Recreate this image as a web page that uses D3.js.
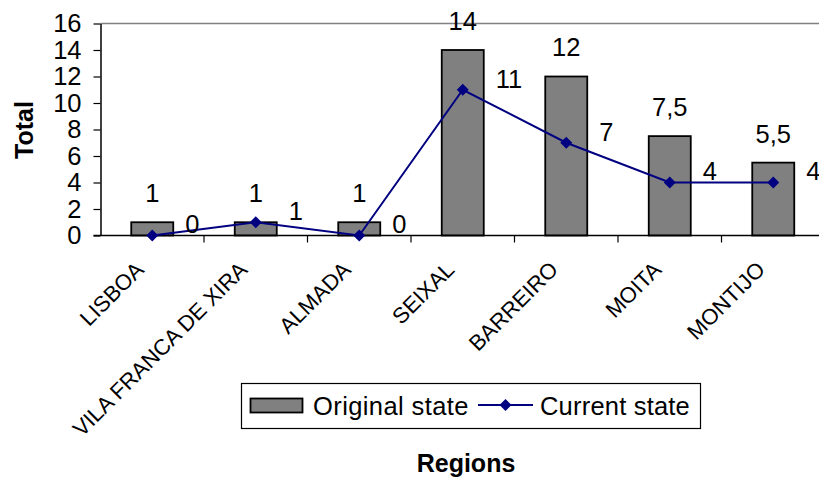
<!DOCTYPE html>
<html>
<head>
<meta charset="utf-8">
<script src="https://cdn.jsdelivr.net/npm/d3@7"></script>
<style>
  html, body { margin: 0; padding: 0; background: #fff; }
  svg { display: block; font-family: Arial, "Liberation Sans", sans-serif; }
</style>
</head>
<body>
<svg id="chart" width="819" height="481"></svg>
<script>
// Regions and their totals
const regions = ["LISBOA", "VILA FRANCA DE XIRA", "ALMADA", "SEIXAL", "BARREIRO", "MOITA", "MONTIJO"];
const originalState = [1, 1, 1, 14, 12, 7.5, 5.5];
const currentState = [0, 1, 0, 11, 7, 4, 4];
const yTicks = [0, 2, 4, 6, 8, 10, 12, 14, 16];
const seriesNames = ["Original state", "Current state"];

const fmt = v => String(v).replace(".", ",");

const svg = d3.select("#chart");
const plotLeft = 100.5, plotRight = 825, plotTop = 23.5, plotBottom = 235.5;

const x = d3.scaleBand().domain(regions).range([plotLeft, plotRight]);
const y = d3.scaleLinear().domain([0, 16]).range([plotBottom, plotTop]);

// top frame line of the plot area
svg.append("line")
  .attr("x1", plotLeft).attr("x2", 819)
  .attr("y1", y(16)).attr("y2", y(16))
  .attr("stroke", "#808080").attr("stroke-width", 1.5);

// bars
const barW = 42;
svg.append("g").selectAll("rect")
  .data(originalState)
  .join("rect")
  .attr("x", (d, i) => x(regions[i]) + x.bandwidth() / 2 - barW / 2)
  .attr("y", d => y(d))
  .attr("width", barW)
  .attr("height", d => y(0) - y(d))
  .attr("fill", "#808080")
  .attr("stroke", "#000")
  .attr("stroke-width", 1.8);

// y axis
const yAxis = svg.append("g")
  .attr("transform", `translate(${plotLeft},0)`)
  .call(d3.axisLeft(y).tickValues(yTicks).tickSize(7).tickSizeOuter(0).tickPadding(12));
yAxis.select(".domain").attr("stroke", "#000").attr("stroke-width", 1.5);
yAxis.selectAll(".tick line").attr("stroke", "#000").attr("stroke-width", 1.2);
yAxis.selectAll(".tick text")
  .attr("font-size", 25.5).attr("fill", "#000")
  .attr("font-family", "Arial, 'Liberation Sans', sans-serif");

// x axis: line and category boundary ticks
const xg = svg.append("g");
xg.append("line")
  .attr("x1", plotLeft - 7).attr("x2", 819)
  .attr("y1", y(0)).attr("y2", y(0))
  .attr("stroke", "#000").attr("stroke-width", 1.5);
xg.selectAll("line.bt")
  .data(regions.slice(1))
  .join("line")
  .attr("class", "bt")
  .attr("x1", d => x(d)).attr("x2", d => x(d))
  .attr("y1", y(0)).attr("y2", y(0) + 7)
  .attr("stroke", "#000").attr("stroke-width", 1.2);

// category labels, rotated
xg.selectAll("text.cat")
  .data(regions)
  .join("text")
  .attr("class", "cat")
  .attr("text-anchor", "end")
  .attr("font-size", 22)
  .attr("transform", d => `translate(${x(d) + x.bandwidth() / 2 - 7},271) rotate(-45)`)
  .text(d => d);

// current state line
const cx = i => x(regions[i]) + x.bandwidth() / 2;
const line = d3.line().x((d, i) => cx(i)).y(d => y(d));
svg.append("path")
  .datum(currentState)
  .attr("d", line)
  .attr("fill", "none")
  .attr("stroke", "#000080")
  .attr("stroke-width", 2);

const diamond = d3.symbol().type(d3.symbolSquare).size(72);
svg.append("g").selectAll("path")
  .data(currentState)
  .join("path")
  .attr("d", diamond)
  .attr("transform", (d, i) => `translate(${cx(i)},${y(d)}) rotate(45)`)
  .attr("fill", "#000080");

// value labels for bars
svg.append("g").selectAll("text")
  .data(originalState)
  .join("text")
  .attr("x", (d, i) => cx(i))
  .attr("y", d => y(d) - 29)
  .attr("dy", "0.35em")
  .attr("text-anchor", "middle")
  .attr("font-size", 25.5)
  .text(fmt);

// value labels for line points
svg.append("g").selectAll("text")
  .data(currentState)
  .join("text")
  .attr("x", (d, i) => cx(i) + 33)
  .attr("y", d => y(d) - 11)
  .attr("dy", "0.35em")
  .attr("text-anchor", "start")
  .attr("font-size", 25.5)
  .text(fmt);

// axis titles
svg.append("text")
  .attr("transform", "translate(33,130) rotate(-90)")
  .attr("text-anchor", "middle")
  .attr("font-size", 25)
  .attr("font-weight", "bold")
  .text("Total");

svg.append("text")
  .attr("x", 466).attr("y", 472)
  .attr("text-anchor", "middle")
  .attr("font-size", 25)
  .attr("font-weight", "bold")
  .text("Regions");

// legend
const lg = svg.append("g");
lg.append("rect")
  .attr("x", 241.5).attr("y", 383.5).attr("width", 459).attr("height", 45)
  .attr("fill", "#fff").attr("stroke", "#000").attr("stroke-width", 1.2);
lg.append("rect")
  .attr("x", 250.5).attr("y", 398.5).attr("width", 52).attr("height", 14)
  .attr("fill", "#808080").attr("stroke", "#000").attr("stroke-width", 1.8);
lg.append("text")
  .attr("x", 313).attr("y", 406).attr("dy", "0.35em")
  .attr("font-size", 25.5).attr("letter-spacing", 0.4).text(seriesNames[0]);
lg.append("line")
  .attr("x1", 478).attr("x2", 533).attr("y1", 405).attr("y2", 405)
  .attr("stroke", "#000080").attr("stroke-width", 2);
lg.append("path")
  .attr("d", diamond)
  .attr("transform", "translate(505.5,405) rotate(45)")
  .attr("fill", "#000080");
lg.append("text")
  .attr("x", 540).attr("y", 406).attr("dy", "0.35em")
  .attr("font-size", 25.5).attr("letter-spacing", 0.2).text(seriesNames[1]);
</script>
</body>
</html>
